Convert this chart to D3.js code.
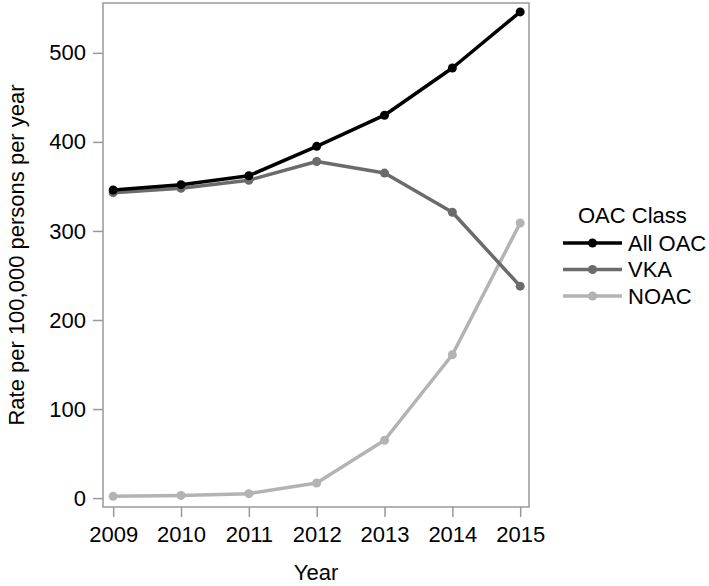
<!DOCTYPE html>
<html lang="en">
  <head>
    <meta charset="UTF-8" />
    <title>OAC rate per 100,000 persons per year</title>
    <style>
      html, body { margin: 0; padding: 0; background: #fff; }
      svg { display: block; font-family: "Liberation Sans", Arial, sans-serif; }
    </style>
    <script src="https://cdn.jsdelivr.net/npm/d3@7/dist/d3.min.js"></script>
  </head>
  <body>
    <script>
      const years = [2009, 2010, 2011, 2012, 2013, 2014, 2015];
      const allOAC = [346, 352, 362, 395, 430, 483, 546];
      const vka = [343, 348, 357, 378, 365, 321, 238];
      const noac = [2, 3, 5, 17, 65, 161, 309];
      const yTicks = [0, 100, 200, 300, 400, 500];
      const seriesNames = ["All OAC", "VKA", "NOAC"];
      const seriesColors = ["#000000", "#6b6b6b", "#b3b3b3"];

      const width = 709;
      const height = 586;
      const box = { left: 103, right: 529, top: 3, bottom: 507 };
      const fontSize = 22;

      const series = [allOAC, vka, noac].map((vals, i) => ({
        name: seriesNames[i],
        color: seriesColors[i],
        values: vals.map((v, j) => ({ year: years[j], value: v })),
      }));

      const svg = d3
        .select(document.body)
        .append("svg")
        .attr("width", width)
        .attr("height", height);

      const x = d3
        .scaleLinear()
        .domain([2008.85, 2015.13])
        .range([box.left, box.right]);

      const y = d3
        .scaleLinear()
        .domain([-10, 556])
        .range([box.bottom, box.top]);

      // frame
      svg
        .append("rect")
        .attr("x", box.left)
        .attr("y", box.top)
        .attr("width", box.right - box.left)
        .attr("height", box.bottom - box.top)
        .attr("fill", "none")
        .attr("stroke", "#999")
        .attr("stroke-width", 1.5);

      const xAxis = svg
        .append("g")
        .attr("transform", `translate(0,${box.bottom})`)
        .call(
          d3.axisBottom(x).tickValues(years).tickFormat(d3.format("d")).tickSize(10).tickPadding(9)
        );

      const yAxis = svg
        .append("g")
        .attr("transform", `translate(${box.left},0)`)
        .call(d3.axisLeft(y).tickValues(yTicks).tickSize(10).tickPadding(7));

      [xAxis, yAxis].forEach((g) => {
        g.select(".domain").remove();
        g.selectAll(".tick line").attr("stroke", "#999").attr("stroke-width", 1.5);
        g.selectAll(".tick text")
          .attr("fill", "#000")
          .attr("font-size", fontSize)
          .attr("font-family", "'Liberation Sans', Arial, sans-serif");
      });

      svg
        .append("text")
        .attr("x", (box.left + box.right) / 2)
        .attr("y", 580)
        .attr("text-anchor", "middle")
        .attr("font-size", fontSize)
        .text("Year");

      svg
        .append("text")
        .attr("transform", `translate(24,${(box.top + box.bottom) / 2}) rotate(-90)`)
        .attr("text-anchor", "middle")
        .attr("font-size", fontSize)
        .text("Rate per 100,000 persons per year");

      const line = d3
        .line()
        .x((d) => x(d.year))
        .y((d) => y(d.value));

      // draw light series first so dark lines sit on top
      const drawOrder = series.slice().reverse();
      const lines = svg.append("g");
      drawOrder.forEach((s) => {
        lines
          .append("path")
          .datum(s.values)
          .attr("fill", "none")
          .attr("stroke", s.color)
          .attr("stroke-width", 3.5)
          .attr("stroke-linejoin", "round")
          .attr("d", line);
        lines
          .append("g")
          .selectAll("circle")
          .data(s.values)
          .join("circle")
          .attr("cx", (d) => x(d.year))
          .attr("cy", (d) => y(d.value))
          .attr("r", 4.5)
          .attr("fill", s.color);
      });

      // legend
      const legend = svg.append("g");
      legend
        .append("text")
        .attr("x", 578)
        .attr("y", 223)
        .attr("font-size", fontSize)
        .text("OAC Class");

      const entry = legend
        .selectAll("g.entry")
        .data(series)
        .join("g")
        .attr("class", "entry")
        .attr("transform", (d, i) => `translate(0,${243 + i * 26.5})`);
      entry
        .append("line")
        .attr("x1", 563)
        .attr("x2", 622)
        .attr("stroke", (d) => d.color)
        .attr("stroke-width", 3.5);
      entry
        .append("circle")
        .attr("cx", 592.5)
        .attr("r", 4.5)
        .attr("fill", (d) => d.color);
      entry
        .append("text")
        .attr("x", 628)
        .attr("y", 7.5)
        .attr("font-size", fontSize)
        .text((d) => d.name);
    </script>
  </body>
</html>
